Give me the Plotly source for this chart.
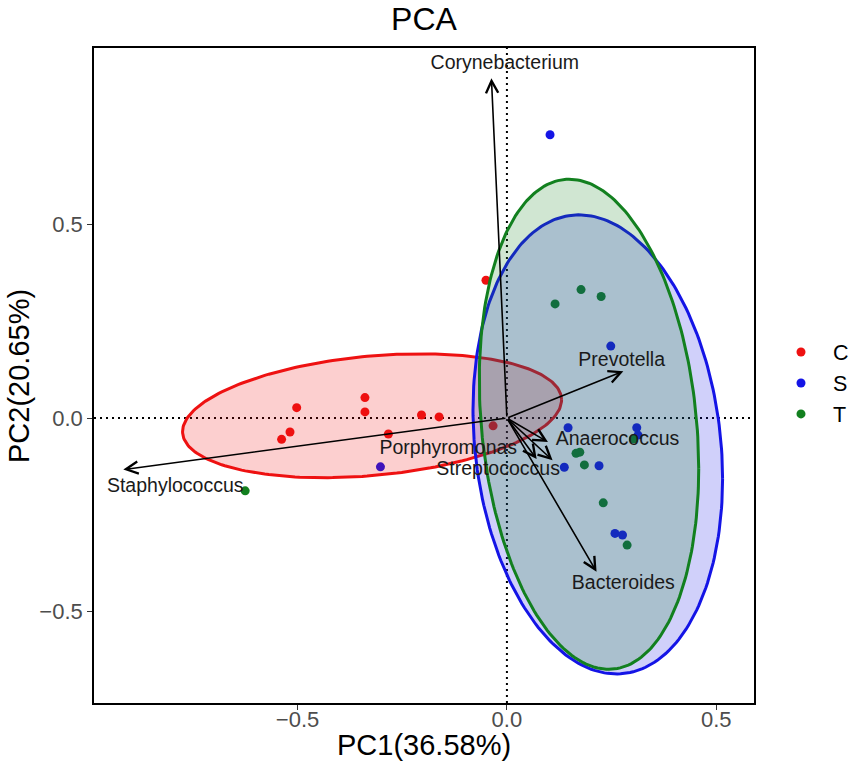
import numpy as np
import plotly.graph_objects as go

# ---------------- data ----------------
groups = ["C", "S", "T"]
group_colors = {"C": "#EE1111", "S": "#1414E6", "T": "#12801F"}
group_fills = {"C": "rgba(238,17,17,0.2)", "S": "rgba(20,20,230,0.2)", "T": "rgba(18,128,31,0.2)"}

C_pc1 = [-0.502, -0.518, -0.538, -0.339, -0.339, -0.204, -0.162, -0.283, -0.033, -0.050]
C_pc2 = [0.027, -0.036, -0.055, 0.053, 0.016, 0.008, 0.003, -0.041, -0.020, 0.356]

S_pc1 = [-0.302, 0.103, 0.248, 0.146, 0.310, 0.313, 0.137, 0.220, 0.258, 0.276]
S_pc2 = [-0.126, 0.732, 0.186, -0.025, -0.025, -0.044, -0.127, -0.123, -0.298, -0.302]

T_pc1 = [-0.625, 0.115, 0.177, 0.225, 0.302, 0.165, 0.174, 0.185, 0.230, 0.287]
T_pc2 = [-0.188, 0.295, 0.332, 0.314, -0.054, -0.091, -0.088, -0.121, -0.219, -0.328]

# confidence ellipses: centre, half-extent in x and y, correlation
ell_cx = [-0.322, 0.217, 0.196]
ell_cy = [0.006, -0.068, -0.016]
ell_rx = [0.4525, 0.298, 0.262]
ell_ry = [0.160, 0.593, 0.633]
ell_rho = [0.256, -0.150, -0.180]

# loadings (arrow tips) and label positions
genus = ["Corynebacterium", "Staphylococcus", "Prevotella", "Anaerococcus",
         "Porphyromonas", "Streptococcus", "Bacteroides"]
load_pc1 = [-0.037, -0.916, 0.278, 0.098, 0.071, 0.109, 0.214]
load_pc2 = [0.878, -0.133, 0.121, -0.062, -0.106, -0.109, -0.397]
label_pc1 = [-0.005, -0.792, 0.274, 0.264, -0.140, -0.021, 0.278]
label_pc2 = [0.914, -0.179, 0.147, -0.057, -0.081, -0.134, -0.429]

tick_vals = [-0.5, 0.0, 0.5]
tick_text = ["\u22120.5", "0.0", "0.5"]

x_label = "PC1(36.58%)"
y_label = "PC2(20.65%)"
title = "PCA"

FONT = "Liberation Sans, Arial, sans-serif"

W, H = 851, 771

# ---------------- figure ----------------
fig = go.Figure()

pts = {"C": (C_pc1, C_pc2), "S": (S_pc1, S_pc2), "T": (T_pc1, T_pc2)}
for g in groups:
    fig.add_trace(go.Scatter(
        x=pts[g][0], y=pts[g][1], mode="markers", name=g,
        marker=dict(color=group_colors[g], size=9, line=dict(width=0)),
    ))

t = np.linspace(0, 2 * np.pi, 241)
for i, g in enumerate(groups):
    ex = ell_cx[i] + ell_rx[i] * np.cos(t)
    ey = ell_cy[i] + ell_ry[i] * (ell_rho[i] * np.cos(t) + np.sqrt(1 - ell_rho[i] ** 2) * np.sin(t))
    fig.add_trace(go.Scatter(
        x=ex, y=ey, mode="lines", fill="toself", fillcolor=group_fills[g],
        line=dict(color=group_colors[g], width=3), showlegend=False, hoverinfo="skip",
    ))

for i in range(len(genus)):
    fig.add_annotation(
        x=load_pc1[i], y=load_pc2[i], ax=0, ay=0, xref="x", yref="y",
        axref="x", ayref="y", text="", showarrow=True, arrowhead=5,
        arrowsize=1.5, arrowwidth=1.6, arrowcolor="black", standoff=0, startstandoff=0,
    )

fig.add_trace(go.Scatter(
    x=label_pc1, y=label_pc2, mode="text", text=genus, showlegend=False,
    textfont=dict(family=FONT, size=19.5, color="#1a1a1a"), hoverinfo="skip",
))

fig.add_shape(type="line", xref="paper", yref="y", x0=0, x1=1, y0=0, y1=0,
              line=dict(color="black", width=2, dash="2px,4px"), layer="below")
fig.add_shape(type="line", xref="x", yref="paper", x0=0, x1=0, y0=0, y1=1,
              line=dict(color="black", width=2, dash="2px,4px"), layer="below")

# axis titles placed as annotations for exact positioning
fig.add_annotation(text=x_label, xref="paper", yref="paper", x=0.5, y=-0.0641,
                   xanchor="center", yanchor="middle", showarrow=False,
                   font=dict(family=FONT, size=29, color="black"))
fig.add_annotation(text=y_label, xref="paper", yref="paper", x=-0.1144, y=0.5,
                   xanchor="center", yanchor="middle", showarrow=False, textangle=-90,
                   font=dict(family=FONT, size=29, color="black"))

axis_common = dict(
    showgrid=False, zeroline=False, showline=True, linecolor="black", linewidth=1.6,
    mirror=True, ticks="outside", ticklen=5, tickwidth=1.2, tickcolor="#333333",
    tickfont=dict(family=FONT, size=22, color="#4D4D4D"),
    tickvals=tick_vals, ticktext=tick_text, automargin=False,
)

fig.update_layout(
    width=W, height=H,
    margin=dict(l=94, r=97, t=48, b=68, autoexpand=False),
    paper_bgcolor="white", plot_bgcolor="white",
    font=dict(family=FONT, color="black"),
    title=dict(text=title, x=424 / W, xanchor="center", y=1 - 19 / H, yanchor="middle",
               font=dict(family=FONT, size=32, color="black")),
    xaxis=dict(range=[-0.986, 0.590], ticklabelstandoff=-9, **axis_common),
    yaxis=dict(range=[-0.736, 0.956], **axis_common),
    legend=dict(x=1.0227, xanchor="left", y=0.4885, yanchor="middle",
                font=dict(family=FONT, size=21.5, color="black"),
                itemwidth=54, tracegroupgap=0, bgcolor="rgba(0,0,0,0)"),
    showlegend=True,
)

# remove the browser's default 8 px body margin so the figure fills the window exactly
fig.write_html("out.html",
               config={"displayModeBar": False},
               post_script="document.body.style.margin='0';document.body.style.overflow='hidden';")
